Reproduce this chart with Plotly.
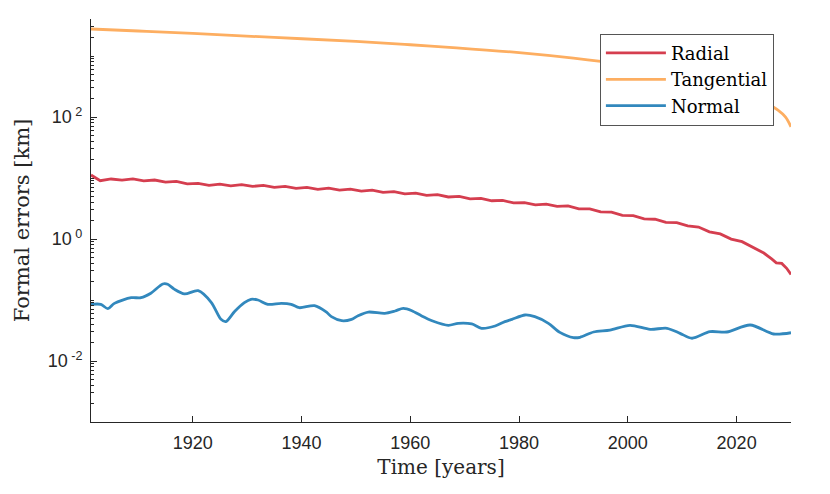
import plotly.graph_objects as go

# ---- data ----
radial_years = [1901.3, 1903, 1905, 1907, 1909, 1911, 1913, 1915, 1917, 1919,
                1921, 1923, 1925, 1927, 1929, 1931, 1933, 1935, 1937, 1939,
                1941, 1943, 1945, 1947, 1949, 1951, 1953, 1955, 1957, 1959,
                1961, 1963, 1965, 1967, 1969, 1971, 1973, 1975, 1977, 1979,
                1981, 1983, 1985, 1987, 1989, 1991, 1993, 1995, 1997, 1999,
                2001, 2003, 2005, 2007, 2009, 2011, 2013, 2015, 2017, 2019,
                2021, 2023, 2025, 2026.5, 2027.3, 2028.3, 2029.2, 2030]
radial_km = [11.19, 9.04, 9.64, 9.23, 9.68, 8.97, 9.27, 8.57, 8.79, 8.02,
             8.17, 7.60, 7.96, 7.45, 7.80, 7.29, 7.57, 7.03, 7.29, 6.78,
             7.03, 6.53, 6.82, 6.34, 6.58, 6.11, 6.32, 5.83, 6.00, 5.51,
             5.65, 5.20, 5.33, 4.89, 4.99, 4.55, 4.65, 4.24, 4.30, 3.90,
             3.95, 3.64, 3.74, 3.44, 3.50, 3.13, 3.12, 2.78, 2.75, 2.44,
             2.41, 2.14, 2.11, 1.87, 1.85, 1.64, 1.57, 1.31, 1.21, 0.998,
             0.904, 0.735, 0.589, 0.468, 0.407, 0.398, 0.331, 0.263]

tangential_years = [1901.3, 1910, 1920, 1935, 1950, 1960, 1968.5, 1980, 1990,
                    1995.4, 2000, 2005, 2010, 2015, 2020, 2024, 2027.6, 2029, 2030]
tangential_km = [2773, 2570, 2344, 2018, 1738, 1531, 1365, 1135, 923,
                 807, 708, 603, 501, 398, 288, 200, 130, 100, 69]

normal_years = [1901.3, 1903.1, 1904.4, 1905.6, 1908.7, 1910.5, 1912.3, 1914.5, 1915.4,
                1916.6, 1918.5, 1921.0, 1923.4, 1925.2, 1926.1, 1927.7, 1929.5, 1930.7,
                1932.0, 1933.8, 1936.3, 1938.1, 1939.6, 1942.4, 1944.6, 1945.5, 1947.4,
                1949.2, 1950.4, 1952.3, 1955.3, 1957.2, 1958.7, 1960.3, 1962.1, 1964.0,
                1967.0, 1968.8, 1971.3, 1973.1, 1975.6, 1977.4, 1978.7, 1981.1, 1982.9,
                1985.4, 1987.5, 1990.0, 1991.2, 1993.7, 1996.7, 2000.4, 2004.1, 2007.2,
                2009.6, 2011.8, 2015.1, 2018.2, 2022.5, 2026.8, 2030.0]
normal_km = [0.0849, 0.0849, 0.0721, 0.0881, 0.109, 0.109, 0.129, 0.183, 0.181,
             0.151, 0.126, 0.142, 0.0916, 0.0482, 0.0442, 0.0646, 0.0904, 0.1026,
             0.100, 0.0849, 0.0881, 0.0849, 0.0748, 0.0807, 0.0631, 0.0533, 0.0458,
             0.0482, 0.0553, 0.0635, 0.0605, 0.0661, 0.0729, 0.0668, 0.0547, 0.0458,
             0.0385, 0.0415, 0.0405, 0.0344, 0.0375, 0.0442, 0.0482, 0.0568, 0.0533,
             0.0415, 0.0295, 0.0242, 0.0245, 0.0299, 0.0322, 0.0385, 0.0331, 0.0344,
             0.0284, 0.0236, 0.0303, 0.0299, 0.0389, 0.0277, 0.0291]

x_ticks = [1920, 1940, 1960, 1980, 2000, 2020]
y_ticks = [0.01, 1, 100]
y_tick_labels = ["10<sup> -2</sup>", "10<sup> 0</sup>", "10<sup> 2</sup>"]

# ---- figure ----
AX = "#262626"
serif = "DejaVu Serif"
sans = "Liberation Sans"

fig = go.Figure()
fig.add_trace(go.Scatter(x=radial_years, y=radial_km, mode="lines", name="Radial",
                         line=dict(color="#D53E4F", width=2.8)))
fig.add_trace(go.Scatter(x=tangential_years, y=tangential_km, mode="lines", name="Tangential",
                         line=dict(color="#FDAE61", width=2.8, shape="spline")))
fig.add_trace(go.Scatter(x=normal_years, y=normal_km, mode="lines", name="Normal",
                         line=dict(color="#3288BD", width=2.8, shape="spline", smoothing=0.8)))

minor_vals = []
for e in range(-3, 4):
    for m in range(2, 10):
        minor_vals.append(m * 10 ** e)
for e in (-3, -1, 1, 3):
    minor_vals.append(10 ** e)

fig.update_layout(
    width=830, height=494,
    margin=dict(l=83, r=47, t=11, b=80),
    paper_bgcolor="white", plot_bgcolor="white",
    showlegend=True,
    legend=dict(x=0.727, y=0.9635, xanchor="left", yanchor="top",
                bgcolor="white", bordercolor="#555555", borderwidth=1,
                font=dict(family=serif, size=18, color="black"),
                itemwidth=60, tracegroupgap=0),
    xaxis=dict(range=[1901.3, 2030], tickvals=x_ticks, ticks="inside", ticklen=6,
               tickcolor=AX, showline=True, linecolor=AX, linewidth=1,
               showgrid=False, zeroline=False, automargin=False, ticklabelstandoff=4,
               tickfont=dict(family=sans, size=18, color=AX),
               title=dict(text="Time [years]", font=dict(family=serif, size=20, color=AX),
                          standoff=8)),
    yaxis=dict(type="log", range=[-3, 3.607], tickvals=y_ticks, ticktext=y_tick_labels,
               ticks="inside", ticklen=6, tickcolor=AX, showline=True, linecolor=AX,
               linewidth=1, showgrid=False, zeroline=False, automargin=False,
               ticklabelstandoff=4,
               tickfont=dict(family=sans, size=18, color=AX),
               minor=dict(tickvals=minor_vals, ticks="inside", ticklen=3, tickcolor=AX,
                          showgrid=False),
               title=dict(text="Formal errors [km]", font=dict(family=serif, size=21, color=AX),
                          standoff=12)),
)

fig.write_html("out.html")
